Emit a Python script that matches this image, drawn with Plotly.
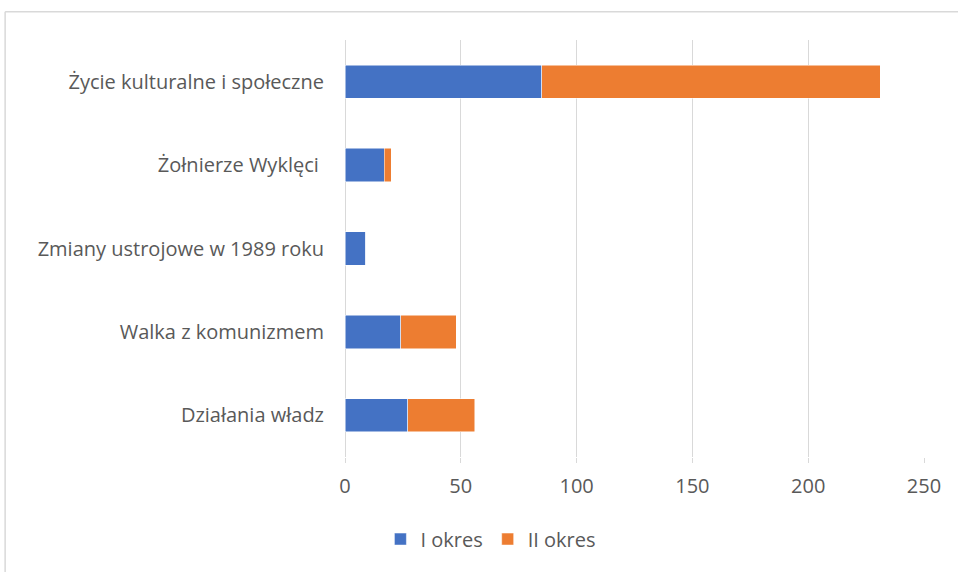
import plotly.graph_objects as go

categories = ["Działania władz", "Walka z komunizmem", "Zmiany ustrojowe w 1989 roku",
              "Żołnierze Wyklęci ", "Życie kulturalne i społeczne"]
okres_1 = [27, 24, 9, 17, 85]
okres_2 = [29, 24, 0, 3, 146]
x_ticks = [0, 50, 100, 150, 200, 250]

font_family = "Open Sans, Noto Sans, Liberation Sans, sans-serif"
text_color = "#595959"

fig = go.Figure()
fig.add_trace(go.Bar(y=categories, x=okres_1, name="I okres", orientation="h",
                     marker=dict(color="#4472C4", line=dict(width=0.5, color="white"))))
fig.add_trace(go.Bar(y=categories, x=okres_2, name="II okres", orientation="h",
                     marker=dict(color="#ED7D31", line=dict(width=0.5, color="white"))))

fig.update_layout(
    barmode="stack",
    bargap=0.6,
    width=958, height=572,
    margin=dict(l=345, r=34, t=40, b=115),
    plot_bgcolor="white", paper_bgcolor="white",
    font=dict(family=font_family, size=20, color=text_color),
    xaxis=dict(range=[0, 250], tickvals=x_ticks, showgrid=True, gridcolor="#D9D9D9",
               gridwidth=1, zeroline=True, zerolinecolor="#D9D9D9", zerolinewidth=1,
               showline=False, ticks="outside", ticklen=5, tickcolor="#D9D9D9",
               tickfont=dict(size=20, color=text_color), ticklabelstandoff=6),
    yaxis=dict(categoryorder="array", categoryarray=categories, showgrid=False,
               showline=False, ticks="", ticklabelstandoff=20,
               tickfont=dict(size=20, color=text_color)),
    legend=dict(orientation="h", x=0.252, xanchor="center", y=-0.15, yanchor="top",
                font=dict(size=20, color=text_color), traceorder="normal",
                itemwidth=30),
    showlegend=True,
    shapes=[
        dict(type="line", xref="paper", yref="paper", x0=-0.587, x1=-0.587,
             y0=-0.3, y1=1.068, line=dict(color="#D9D9D9", width=1.5)),
        dict(type="line", xref="paper", yref="paper", x0=-0.587, x1=1.1,
             y0=1.068, y1=1.068, line=dict(color="#D9D9D9", width=1.5)),
    ],
)

fig.write_html("out.html", config={"displayModeBar": False},
               post_script="document.body.style.margin='0';")
